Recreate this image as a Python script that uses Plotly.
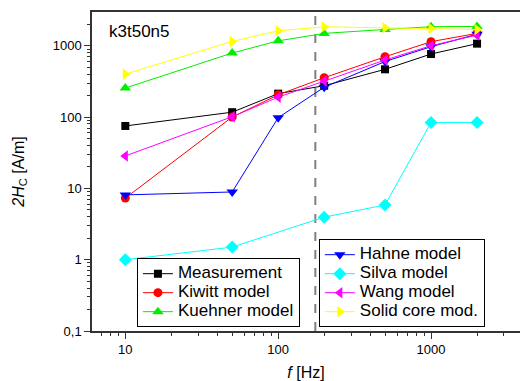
import plotly.graph_objects as go

freq = [10, 50, 100, 200, 500, 1000, 2000]
freq_silva = [10, 50, 200, 500, 1000, 2000]

measurement = [75, 117, 213, 275, 467, 765, 1070]
kiwitt = [7.3, 100, 205, 356, 700, 1140, 1490]
kuehner = [255, 790, 1170, 1490, 1690, 1850, 1860]
hahne = [8.1, 8.9, 98, 262, 600, 970, 1450]
silva = [1.0, 1.5, 3.95, 5.85, 84, 84]
wang = [28.5, 101, 190, 320, 630, 1000, 1410]
solid = [400, 1150, 1620, 1840, 1780, 1740, 1690]

f_g = 175

ytick_vals = [0.1, 1, 10, 100, 1000]
ytick_text = ["0,1", "1", "10", "100", "1000"]
xtick_vals = [10, 100, 1000]
xtick_text = ["10", "100", "1000"]

FONT = "Liberation Sans, Arial, sans-serif"

series = [
    ("Measurement", freq, measurement, "black", "square", 8, "legend"),
    ("Kiwitt model", freq, kiwitt, "red", "circle", 9, "legend"),
    ("Kuehner model", freq, kuehner, "#00ee00", "triangle-up", 10, "legend"),
    ("Hahne model", freq, hahne, "blue", "triangle-down", 10, "legend2"),
    ("Silva model", freq_silva, silva, "cyan", "diamond", 10, "legend2"),
    ("Wang model", freq, wang, "magenta", "triangle-left", 10, "legend2"),
    ("Solid core mod.", freq, solid, "yellow", "triangle-right", 10, "legend2"),
]

fig = go.Figure()
for name, xs, ys, col, sym, size, lg in series:
    fig.add_trace(go.Scatter(
        x=xs, y=ys, name='<span style="font-size:17px">' + name + '</span>',
        mode="lines+markers",
        line=dict(color=col, width=1),
        marker=dict(symbol=sym, size=size, color=col, line=dict(width=0)),
        legend=lg,
    ))

fig.add_shape(type="line", xref="x", yref="paper", x0=f_g, x1=f_g, y0=0, y1=1,
              line=dict(color="gray", width=2, dash="dash"), layer="below")

fig.add_annotation(x=f_g, xref="x", y=0, yref="paper", yshift=-7,
                   text="<i>f</i><sub>g</sub>", showarrow=False,
                   yanchor="top", xanchor="center",
                   font=dict(family=FONT, size=13, color="black"))

fig.add_annotation(x=0.035, xref="paper", y=0.94, yref="paper",
                   text="k3t50n5", showarrow=False, xanchor="left", yanchor="middle",
                   font=dict(family=FONT, size=17, color="black"))

legend_common = dict(
    bgcolor="white", bordercolor="black", borderwidth=1,
    font=dict(family=FONT, size=12, color="black"),
    tracegroupgap=0,
    xanchor="left", yanchor="bottom",
)

fig.update_layout(
    width=520, height=381,
    margin=dict(l=92, r=0, t=12, b=50),
    paper_bgcolor="white", plot_bgcolor="white",
    font=dict(family=FONT, size=13, color="black"),
    legend=dict(x=0.105, y=0.012, **legend_common),
    legend2=dict(x=0.530, y=0.012, **legend_common),
    xaxis=dict(
        type="log", range=[0.782, 3.582],
        tickvals=xtick_vals, ticktext=xtick_text,
        ticks="outside", ticklen=6, tickwidth=1, tickcolor="#333",
        minor=dict(ticks="outside", ticklen=3, tickwidth=1, tickcolor="#333", dtick="D1", showgrid=False),
        showgrid=False, zeroline=False,
        showline=True, linecolor="#333", linewidth=1.5, mirror=True,
        title=dict(text="<i>f</i> [Hz]", font=dict(family=FONT, size=16), standoff=10),
        tickfont=dict(family=FONT, size=13),
    ),
    yaxis=dict(
        type="log", range=[-1, 3.473],
        tickvals=ytick_vals, ticktext=ytick_text,
        ticks="outside", ticklen=6, tickwidth=1, tickcolor="#333",
        minor=dict(ticks="outside", ticklen=3, tickwidth=1, tickcolor="#333", dtick="D1", showgrid=False),
        showgrid=False, zeroline=False,
        showline=True, linecolor="#333", linewidth=1.5,
        title=dict(text="<i>2H</i><sub>C</sub> [A/m]", font=dict(family=FONT, size=16), standoff=24),
        tickfont=dict(family=FONT, size=13),
    ),
)

fig.write_html("out.html")
